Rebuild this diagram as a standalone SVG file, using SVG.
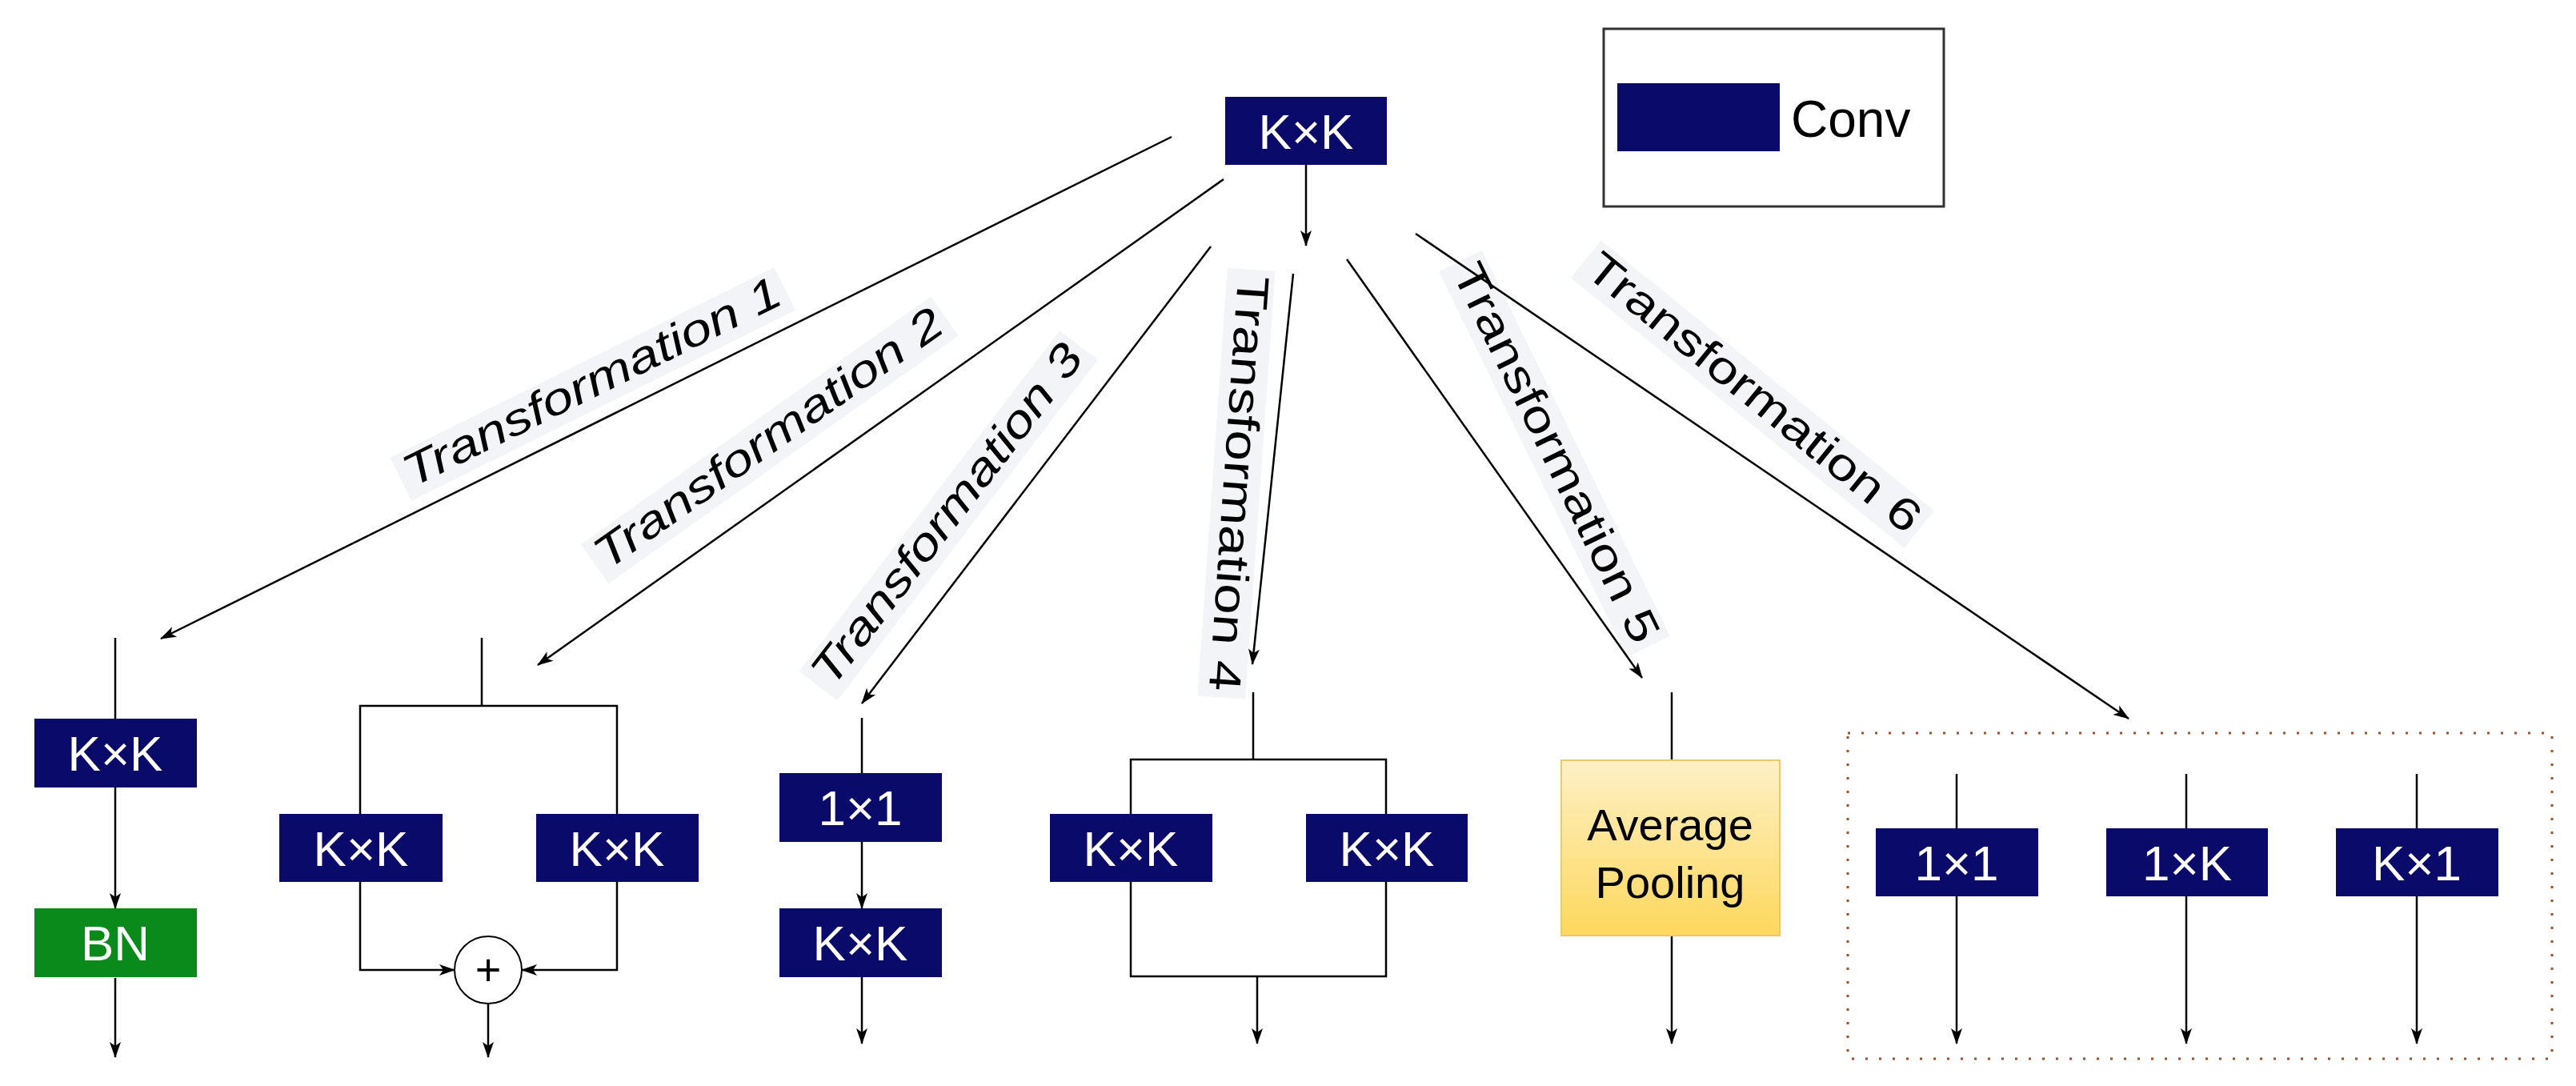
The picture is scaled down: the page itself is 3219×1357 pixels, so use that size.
<svg xmlns="http://www.w3.org/2000/svg" width="3219" height="1357" viewBox="0 0 3219 1357">
<style>
.conv{fill:#0a0a6a}
.bt{fill:#fff;font-family:"Liberation Sans",Arial,sans-serif;font-size:62px;text-anchor:middle}
.ln{stroke:#000;stroke-width:2.5;fill:none}
.lb{font-family:"Liberation Sans",Arial,sans-serif;font-size:56px;text-anchor:middle;fill:#000}
.lbg{fill:#f3f4f8}
</style>
<defs>
<marker id="ah" viewBox="0 0 20 20" refX="19" refY="10" markerWidth="20" markerHeight="20" markerUnits="userSpaceOnUse" orient="auto">
<path d="M0,3 L20,10 L0,17 L5,10 Z" fill="#000"/>
</marker>
<linearGradient id="gp" x1="0" y1="0" x2="0" y2="1">
<stop offset="0" stop-color="#fdf0c6"/><stop offset="1" stop-color="#fdd85c"/>
</linearGradient>
</defs>
<rect width="3219" height="1357" fill="#fff"/>

<g id="legend">
<rect x="2004" y="36" width="425" height="222" fill="#fff" stroke="#333" stroke-width="3"/>
<rect class="conv" x="2021" y="104" width="203" height="85"/>
<text x="2238" y="171" font-family="Liberation Sans,Arial,sans-serif" font-size="64">Conv</text>
</g>

<g id="top"><rect class="conv" x="1531" y="121" width="202" height="85"/><text class="bt" x="1632" y="186">K×K</text></g>

<g id="labels">
<g transform="translate(748,494) rotate(-26.4)"><rect class="lbg" x="-268" y="-46" width="536" height="60"/><text class="lb" x="0" y="0" font-style="italic" textLength="520" lengthAdjust="spacingAndGlyphs">Transformation 1</text></g>
<g transform="translate(971,563) rotate(-35.3)"><rect class="lbg" x="-268" y="-46" width="536" height="60"/><text class="lb" x="0" y="0" font-style="italic" textLength="520" lengthAdjust="spacingAndGlyphs">Transformation 2</text></g>
<g transform="translate(1198,654) rotate(-52.6)"><rect class="lbg" x="-268" y="-46" width="536" height="60"/><text class="lb" x="0" y="0" font-style="italic" textLength="520" lengthAdjust="spacingAndGlyphs">Transformation 3</text></g>
<g transform="translate(1529,603) rotate(94)"><rect class="lbg" x="-268" y="-46" width="536" height="60"/><text class="lb" x="0" y="0" textLength="520" lengthAdjust="spacingAndGlyphs">Transformation 4</text></g>
<g transform="translate(1928,574) rotate(64)"><rect class="lbg" x="-268" y="-46" width="536" height="60"/><text class="lb" x="0" y="0" textLength="520" lengthAdjust="spacingAndGlyphs">Transformation 5</text></g>
<g transform="translate(2180,505) rotate(39)"><rect class="lbg" x="-268" y="-46" width="536" height="60"/><text class="lb" x="0" y="0" textLength="520" lengthAdjust="spacingAndGlyphs">Transformation 6</text></g>
</g>

<g id="connectors">
<line class="ln" x1="1632" y1="206" x2="1632" y2="307" marker-end="url(#ah)"/>
<line class="ln" x1="1464" y1="171" x2="201" y2="798" marker-end="url(#ah)"/>
<line class="ln" x1="1529" y1="224" x2="672" y2="831" marker-end="url(#ah)"/>
<line class="ln" x1="1513" y1="308" x2="1077" y2="879" marker-end="url(#ah)"/>
<line class="ln" x1="1616" y1="342" x2="1565" y2="830" marker-end="url(#ah)"/>
<line class="ln" x1="1683" y1="324" x2="2052" y2="847" marker-end="url(#ah)"/>
<line class="ln" x1="1769" y1="292" x2="2660" y2="898" marker-end="url(#ah)"/>
<!-- col1 -->
<line class="ln" x1="144" y1="797" x2="144" y2="898"/>
<line class="ln" x1="144" y1="984" x2="144" y2="1135" marker-end="url(#ah)"/>
<line class="ln" x1="144" y1="1222" x2="144" y2="1321" marker-end="url(#ah)"/>
<!-- col2 -->
<path class="ln" d="M602,797 V882 M450,1017 V882 H771 V1017"/>
<path class="ln" d="M450,1102 V1212 H568" marker-end="url(#ah)"/>
<path class="ln" d="M771,1102 V1212 H652" marker-end="url(#ah)"/>
<line class="ln" x1="610" y1="1254" x2="610" y2="1321" marker-end="url(#ah)"/>
<!-- col3 -->
<line class="ln" x1="1077" y1="897" x2="1077" y2="966"/>
<line class="ln" x1="1077" y1="1052" x2="1077" y2="1135" marker-end="url(#ah)"/>
<line class="ln" x1="1077" y1="1221" x2="1077" y2="1304" marker-end="url(#ah)"/>
<!-- col4 -->
<path class="ln" d="M1566,865 V949 M1413,1017 V949 H1732 V1017 M1413,1102 V1220 H1732 V1102"/>
<line class="ln" x1="1571" y1="1220" x2="1571" y2="1304" marker-end="url(#ah)"/>
<!-- col5 -->
<line class="ln" x1="2089" y1="865" x2="2089" y2="950"/>
<line class="ln" x1="2089" y1="1169" x2="2089" y2="1304" marker-end="url(#ah)"/>
<!-- col6 -->
<line class="ln" x1="2445" y1="967" x2="2445" y2="1035"/>
<line class="ln" x1="2445" y1="1120" x2="2445" y2="1304" marker-end="url(#ah)"/>
<line class="ln" x1="2732" y1="967" x2="2732" y2="1035"/>
<line class="ln" x1="2732" y1="1120" x2="2732" y2="1304" marker-end="url(#ah)"/>
<line class="ln" x1="3020" y1="967" x2="3020" y2="1035"/>
<line class="ln" x1="3020" y1="1120" x2="3020" y2="1304" marker-end="url(#ah)"/>
</g>

<g id="t1"><rect class="conv" x="43" y="898" width="203" height="86"/><text class="bt" x="144" y="963">K×K</text>
<rect x="43" y="1135" width="203" height="86" fill="#0a8a1a"/><text class="bt" x="144" y="1200" fill="#e8ffe8">BN</text></g>
<g id="t2"><rect class="conv" x="349" y="1017" width="204" height="85"/><text class="bt" x="451" y="1082">K×K</text>
<rect class="conv" x="670" y="1017" width="203" height="85"/><text class="bt" x="771" y="1082">K×K</text>
<circle cx="610" cy="1212" r="42" fill="#fff" stroke="#000" stroke-width="2"/>
<text x="610" y="1231" text-anchor="middle" font-family="Liberation Sans,Arial,sans-serif" font-size="56">+</text></g>
<g id="t3"><rect class="conv" x="974" y="966" width="203" height="86"/><text class="bt" x="1075" y="1031">1×1</text>
<rect class="conv" x="974" y="1135" width="203" height="86"/><text class="bt" x="1075" y="1200">K×K</text></g>
<g id="t4"><rect class="conv" x="1312" y="1017" width="203" height="85"/><text class="bt" x="1413" y="1082">K×K</text>
<rect class="conv" x="1632" y="1017" width="202" height="85"/><text class="bt" x="1733" y="1082">K×K</text></g>
<g id="t5"><rect x="1951" y="950" width="273" height="219" fill="url(#gp)" stroke="#e8c878" stroke-width="2"/>
<text x="2087" y="1050" text-anchor="middle" font-family="Liberation Sans,Arial,sans-serif" font-size="56">Average</text>
<text x="2087" y="1122" text-anchor="middle" font-family="Liberation Sans,Arial,sans-serif" font-size="56">Pooling</text></g>
<g id="t6"><rect x="2309" y="916" width="880" height="407" fill="none" stroke="#a0522d" stroke-width="3" stroke-dasharray="3,14"/>
<rect class="conv" x="2344" y="1035" width="203" height="85"/><text class="bt" x="2445" y="1100">1×1</text>
<rect class="conv" x="2632" y="1035" width="202" height="85"/><text class="bt" x="2733" y="1100">1×K</text>
<rect class="conv" x="2919" y="1035" width="203" height="85"/><text class="bt" x="3020" y="1100">K×1</text></g>
</svg>
